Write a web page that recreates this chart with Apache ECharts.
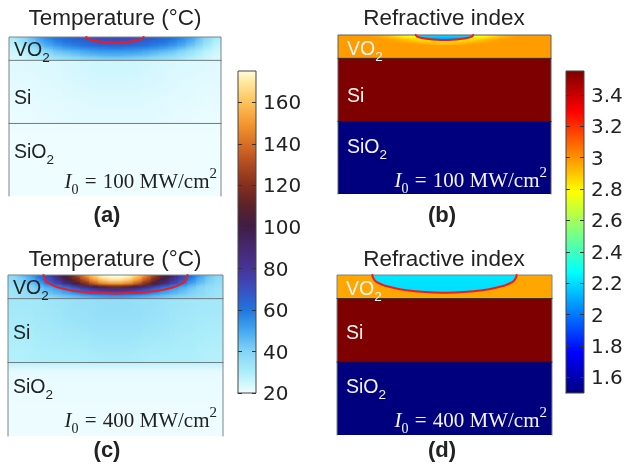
<!DOCTYPE html>
<html><head><meta charset="utf-8">
<style>html,body{margin:0;padding:0;background:#fff}#c{width:628px;height:466px}</style>
<script src="https://cdn.jsdelivr.net/npm/echarts@6/dist/echarts.min.js"></script>
</head><body><div id="c"></div>
<script>
// ---- tick labels and colour scales ----
const temperatureTicks = [20,40,60,80,100,120,140,160];
const indexTicks = [1.6,1.8,2,2.2,2.4,2.6,2.8,3,3.2,3.4];
const temperatureRange = [20,175];
const indexRange = [1.5,3.55];
const temperatureColours = [[20,'#f0fdff'],[30,'#aceefa'],[40,'#84d4f6'],[50,'#45a8f0'],[60,'#2075e0'],[70,'#3a4fc0'],[80,'#46349a'],[90,'#47286f'],[100,'#3f1d45'],[110,'#5a2228'],[120,'#84301c'],[130,'#b04a20'],[140,'#d96f25'],[150,'#f59830'],[160,'#fdc25a'],[170,'#feeaa0'],[175,'#fffbdf']];
const indexColours = [[1.5,'#00007f'],[1.756,'#0000ff'],[2.0125,'#007fff'],[2.269,'#00ffff'],[2.525,'#7fff7f'],[2.781,'#ffff00'],[3.0375,'#ff7f00'],[3.294,'#ff0000'],[3.55,'#7f0000']];

// ---- layer depths ----
const vo2Depths = [0,3.4,6.7,10.1,13.4,16.8,20.1,23.5];
const siDepths = [23.5,39.4,55.2,71.1,87];
const oxideDepths = [87,90,93,97,160];
const halfWidth = 107.5;

// ---- panel (a) temperature ----
const tempA_vo2 = [
[31,37,44,51,56,60,63,66,68,70,71,72,72,71,70,68,66,63,60,56,51,44,37,31],
[29,35,42,48,53,57,60,62,64,66,68.5,69,69,68.5,66,64,62,60,57,53,48,42,35,29],
[27,32,39,44,49,53,56,58,60,62,63,64,64,63,62,60,58,56,53,49,44,39,32,27],
[26,30,35,40,44,48,51,53,55,56,57,58,58,57,56,55,53,51,48,44,40,35,30,26],
[25,27,31,35,39,43,45,47,49,51,52,52,52,52,51,49,47,45,43,39,35,31,27,25],
[24,26,29,32,35,38,40,42,44,45,46,47,47,46,45,44,42,40,38,35,32,29,26,24],
[23,25,27,29,32,34,36,37,39,40,41,41,41,41,40,39,37,36,34,32,29,27,25,23]];
const tempA_si = [
[22.5,23,24,25,25,24,23,22.5],
[22,22.5,23.5,24,24,23.5,22.5,22],
[21.5,22,22.5,23,23,22.5,22,21.5],
[21,21.5,22,22,22,22,21.5,21]];
const tempA_oxide = [[20.6],[20.5],[20.4],[20.3]];
const contourA = [[-29,0],[-28,1.5],[-24,3],[-16,4.6],[-8,5.4],[0,5.7],[8,5.4],[16,4.6],[24,3],[28,1.5],[29,0]];

// ---- panel (c) temperature ----
const tempC_vo2 = [
[38,43,50,60,73,88,104,122,142,160,172,175,175,172,160,142,122,104,88,73,60,50,43,38],
[37,41,47,56,68,82,97,114,132,150,162,168,168,162,150,132,114,97,82,68,56,47,41,37],
[36,39,44,50,60,71,86,100,116,132,144,148,148,144,132,116,100,86,71,60,50,44,39,36],
[35,37,40,45,50,56,64,75,88,98,108,114,114,108,98,88,75,64,56,50,45,40,37,35],
[34,36,39,42,46,50,55,61,69,76,81,84,84,81,76,69,61,55,50,46,42,39,36,34],
[34,35,38,40,43,46,49,53,58,62,65,67,67,65,62,58,53,49,46,43,40,38,35,34],
[33,35,36,38,39,41,43,45,47,49,51,52,52,51,49,47,45,43,41,39,38,36,35,33]];
const tempC_si = [
[32,33,35,36,36,35,33,32],
[31,32,34,35,35,34,32,31],
[30,31,32,33,33,32,31,30],
[29,30,30,31,31,30,30,29]];
const tempC_oxide = [[26],[24],[22],[20.6]];
const contourC = [[-72,0],[-71.5,2.5],[-69,6.7],[-65,9],[-59,11.7],[-51,14],[-42.5,15.7],[-25.5,17.3],[-12,18],[0,18.3],[12,18],[25.5,17.3],[42.5,15.7],[51,14],[59,11.7],[65,9],[69,6.7],[71.5,2.5],[72,0]];

// ---- panel (b) refractive index ----
const indexB_vo2 = [
[2.98,2.98,2.98,2.98,2.96,2.92,2.86,2.8,2.74,2.7,2.7,2.7,2.7,2.7,2.7,2.74,2.8,2.86,2.92,2.96,2.98,2.98,2.98,2.98],
[2.98,2.98,2.98,2.98,2.98,2.98,2.96,2.92,2.88,2.84,2.82,2.8,2.8,2.82,2.84,2.88,2.92,2.96,2.98,2.98,2.98,2.98,2.98,2.98],
[2.98,2.98,2.98,2.98,2.98,2.98,2.98,2.98,2.98,2.96,2.94,2.92,2.92,2.94,2.96,2.98,2.98,2.98,2.98,2.98,2.98,2.98,2.98,2.98],
[2.98]];
const indexB_vo2Depths = [0,3.4,6.7,10.1,23.5];
const coreB = [2.24,2.02];
const contourB = [[-29,0],[-28,1.3],[-24,2.7],[-16,4.1],[-8,4.8],[0,5],[8,4.8],[16,4.1],[24,2.7],[28,1.3],[29,0]];

// ---- panel (d) refractive index ----
const indexD_vo2 = [[2.96]];
const indexD_vo2Depths = [0,23.5];
const coreD = [2.22,2.2];
const contourD = [[-72.2,0],[-71.5,2.5],[-69.5,5.7],[-65,8.5],[-59.5,10.7],[-46,14],[-38,15.3],[-29.5,16.3],[-15,17.2],[0,17.7],[15,17.2],[29.5,16.3],[38,15.3],[46,14],[59.5,10.7],[65,8.5],[69.5,5.7],[71.5,2.5],[72.2,0]];

const indexSi = [[3.55]];
const indexOxide = [[1.5]];
const indexSiDepths = [23.5,87];
const indexOxideDepths = [87,160];

// ---- text ----
const panelTitles = ['Temperature (°C)','Refractive index','Temperature (°C)','Refractive index'];
const panelLetters = ['(a)','(b)','(c)','(d)'];
const intensities = ['100','100','400','400'];

// ---- helpers ----
function rgbAt(stops, v){
  const hex=s=>[1,3,5].map(k=>parseInt(s.substr(k,2),16));
  if (v <= stops[0][0]) return hex(stops[0][1]);
  for (let i=1;i<stops.length;i++){
    if (v <= stops[i][0]){
      const t=(v-stops[i-1][0])/(stops[i][0]-stops[i-1][0]);
      const a=hex(stops[i-1][1]), b=hex(stops[i][1]);
      return a.map((c,k)=>Math.round(c*(1-t)+b[k]*t));
    }
  }
  return hex(stops[stops.length-1][1]);
}
const colourAt=(stops,v,alpha)=>'rgba('+rgbAt(stops,v).join(',')+','+(alpha===undefined?1:alpha)+')';
function cellsFrom(rows, depths){
  const out=[];
  rows.forEach((row,r)=>{
    const w=2*halfWidth/row.length;
    const above=r>0&&rows[r-1].length===row.length?rows[r-1]:row;
    const below=r<rows.length-1&&rows[r+1].length===row.length?rows[r+1]:row;
    row.forEach((v,c)=>{
      out.push([-halfWidth+c*w,-halfWidth+(c+1)*w,depths[r],depths[r+1],v,
        c>0?row[c-1]:v, c<row.length-1?row[c+1]:v, above[c], below[c]]);
    });
  });
  return out;
}
function cellSeries(g, stops, blocks){
  const data=[].concat(...blocks.map(b=>cellsFrom(b[0],b[1])));
  return {type:'custom',xAxisIndex:g,yAxisIndex:g,z:1,silent:true,clip:false,data,
    encode:{x:[0,1],y:[2,3]},
    renderItem(p,api){
      const a=api.coord([api.value(0),api.value(2)]), b=api.coord([api.value(1),api.value(3)]);
      const x0=Math.round(a[0]),x1=Math.round(b[0]),y0=Math.round(a[1]),y1=Math.round(b[1]);
      const v=api.value(4),l=api.value(5),r=api.value(6),u=api.value(7),d=api.value(8);
      const w=x1-x0,h=y1-y0,mid=Math.round(h/2);
      const children=[{type:'rect',shape:{x:x0,y:y0,width:w,height:h},style:{fill:{type:'linear',x:0,y:0,x2:1,y2:0,colorStops:[
        {offset:0,color:colourAt(stops,(l+v)/2)},
        {offset:.5,color:colourAt(stops,v)},
        {offset:1,color:colourAt(stops,(r+v)/2)}]}}}];
      if(u!==v) children.push({type:'rect',shape:{x:x0,y:y0,width:w,height:mid},style:{fill:{type:'linear',x:0,y:0,x2:0,y2:1,colorStops:[
        {offset:0,color:colourAt(stops,u,.5)},{offset:1,color:colourAt(stops,u,0)}]}}});
      if(d!==v) children.push({type:'rect',shape:{x:x0,y:y0+mid,width:w,height:h-mid},style:{fill:{type:'linear',x:0,y:0,x2:0,y2:1,colorStops:[
        {offset:0,color:colourAt(stops,d,0)},{offset:1,color:colourAt(stops,d,.5)}]}}});
      return {type:'group',children};
    }};
}
function coreSeries(g, contour, core){
  return {type:'custom',xAxisIndex:g,yAxisIndex:g,z:2,silent:true,clip:false,data:[[0,0]],
    renderItem(p,api){
      const pts=contour.map(q=>api.coord(q));
      return {type:'polygon',shape:{points:pts},style:{fill:{type:'linear',x:0,y:0,x2:0,y2:1,
        colorStops:[{offset:0,color:colourAt(indexColours,core[0])},{offset:1,color:colourAt(indexColours,core[1])}]}}};
    }};
}
function lineSeries(g, data, color, width, z, smooth){
  return {type:'line',xAxisIndex:g,yAxisIndex:g,data,showSymbol:false,symbol:'none',silent:true,clip:false,z,
    smooth:smooth||false,lineStyle:{color,width,cap:'round'},animation:false};
}
function barSeries(g, stops, range){
  return {type:'custom',xAxisIndex:g,yAxisIndex:g,z:1,silent:true,clip:false,data:[[0,1,range[0],range[1]]],
    encode:{x:[0,1],y:[2,3]},
    renderItem(p,api){
      const a=api.coord([api.value(0),api.value(3)]), b=api.coord([api.value(1),api.value(2)]);
      const span=range[1]-range[0];
      return {type:'rect',shape:{x:a[0],y:a[1],width:b[0]-a[0],height:b[1]-a[1]},style:{fill:{type:'linear',x:0,y:0,x2:0,y2:1,
        colorStops:stops.map(s=>({offset:(range[1]-s[0])/span,color:s[1]})).reverse()}}};
    }};
}
// inward ticks on both edges of a colour bar, placed through the bar's own axes
function barTicks(g, ticks){
  return {type:'custom',xAxisIndex:g,yAxisIndex:g,z:6,silent:true,clip:false,data:ticks.map(t=>[0,t]),
    encode:{x:0,y:1},
    renderItem(p,api){
      const l=api.coord([0,api.value(1)]), r=api.coord([1,api.value(1)]);
      const y=Math.round(l[1])+.5;
      const st={stroke:'#333',lineWidth:1};
      return {type:'group',children:[
        {type:'line',shape:{x1:l[0],y1:y,x2:l[0]+4,y2:y},style:st},
        {type:'line',shape:{x1:r[0]-4,y1:y,x2:r[0],y2:y},style:st}]};
    }};
}

// ---- grids and axes ----
const panelGrids = [
  {left:9,top:37,width:212,height:159},
  {left:338,top:35,width:213,height:159},
  {left:8,top:275,width:215,height:161},
  {left:337,top:275,width:215,height:160}];
const barGrids = [{left:238,top:71,width:18,height:322},{left:566,top:71,width:18,height:322}];
const grids = panelGrids.concat(barGrids);
const xAxes = panelGrids.map((_,i)=>({gridIndex:i,type:'value',min:-halfWidth,max:halfWidth,show:false}))
  .concat(barGrids.map((_,i)=>({gridIndex:4+i,type:'value',min:0,max:1,show:false})));
const yAxes = panelGrids.map((_,i)=>({gridIndex:i,type:'value',min:0,max:160,inverse:true,show:false}));
const tickText = v=>String(v);
function barAxis(g, range, ticks){
  return {gridIndex:g,type:'value',min:range[0],max:range[1],splitLine:{show:false},axisLine:{show:false},z:5,position:'right',
    axisTick:{show:false},
    axisLabel:{show:true,margin:7,verticalAlign:'top',lineHeight:4,customValues:ticks,formatter:tickText,color:'#222',fontFamily:'DejaVu Sans',fontSize:20}};
}
yAxes.push(barAxis(4,temperatureRange,temperatureTicks),barAxis(5,indexRange,indexTicks));

// ---- series ----
const outline=[[-halfWidth,160],[-halfWidth,0],[halfWidth,0],[halfWidth,160]];
const series=[
  cellSeries(0,temperatureColours,[[tempA_vo2,vo2Depths],[tempA_si,siDepths],[tempA_oxide,oxideDepths]]),
  cellSeries(1,indexColours,[[indexB_vo2,indexB_vo2Depths],[indexSi,indexSiDepths],[indexOxide,indexOxideDepths]]),
  coreSeries(1,contourB,coreB),
  cellSeries(2,temperatureColours,[[tempC_vo2,vo2Depths],[tempC_si,siDepths],[tempC_oxide,oxideDepths]]),
  cellSeries(3,indexColours,[[indexD_vo2,indexD_vo2Depths],[indexSi,indexSiDepths],[indexOxide,indexOxideDepths]]),
  coreSeries(3,contourD,coreD)
];
const frameColours=['#7a8488','#5a5f66','#7a8488','#7a8488'];
[0,1,2,3].forEach(g=>{
  series.push(lineSeries(g,outline,frameColours[g],1,3));
  series.push(lineSeries(g,[[-halfWidth,23.5],[halfWidth,23.5]],g%2?'#44302a':'#6f7a7e',1,3));
  series.push(lineSeries(g,[[-halfWidth,87],[halfWidth,87]],g%2?'#20104a':'#6f7a7e',1,3));
});
[[0,contourA],[1,contourB],[2,contourC],[3,contourD]].forEach(q=>series.push(lineSeries(q[0],q[1],'#ec1c24',2,4,0.3)));
series.push(barSeries(4,temperatureColours,temperatureRange));
series.push(barSeries(5,indexColours,indexRange));
series.push(barTicks(4,temperatureTicks));
series.push(barTicks(5,indexTicks));
series.push(lineSeries(4,[[0,20],[1,20],[1,175],[0,175],[0,20]],'#444',1,4));
series.push(lineSeries(5,[[0,1.5],[1,1.5],[1,3.55],[0,3.55],[0,1.5]],'#444',1,4));

// ---- text ----
const sans='"Liberation Sans"', serif='"Liberation Serif"';
const layerRich=col=>({m:{fontFamily:sans,fontSize:19.5,fill:col,lineHeight:28,verticalAlign:'middle'},
  s:{fontFamily:sans,fontSize:13.5,fill:col,lineHeight:13,verticalAlign:'bottom'}});
const mathRich=col=>({i:{fontFamily:serif,fontStyle:'italic',fontSize:21,fill:col,lineHeight:30,verticalAlign:'middle'},
  m:{fontFamily:serif,fontSize:21,fill:col,lineHeight:30,verticalAlign:'middle'},
  e:{fontFamily:serif,fontSize:21,fill:col,lineHeight:30,verticalAlign:'middle',padding:[0,1,0,1]},
  s:{fontFamily:serif,fontSize:14,fill:col,lineHeight:14,verticalAlign:'bottom'},
  u:{fontFamily:serif,fontSize:15,fill:col,lineHeight:22,verticalAlign:'top'}});
const txt=(x,y,text,rich,align)=>({type:'text',x,y,z:10,silent:true,style:{text,rich,align:align||'left',verticalAlign:'middle'}});
const plain=(x,y,text,font)=>({type:'text',x,y,z:10,silent:true,style:{text,font,fill:'#222',align:'center',verticalAlign:'middle'}});
const titleXY=[[115,19],[444,19],[115,260],[444,260]];
const letterXY=[[107,216],[442,216],[107,451],[442,451]];
const layerXY=[
  [[14,51],[14,99],[14,153],[217,182]],
  [[347,50],[347,97],[347,148],[547,181]],
  [[13,289],[13,334],[13,388],[217,421]],
  [[346,290],[346,334],[346,388],[547,421]]];
const graphicEls=[];
[0,1,2,3].forEach(i=>{
  const col=i%2?'#f4f4f4':'#222';
  const L=layerXY[i];
  graphicEls.push(plain(titleXY[i][0],titleXY[i][1],panelTitles[i],'22.5px '+sans));
  graphicEls.push(plain(letterXY[i][0],letterXY[i][1],panelLetters[i],'bold 22px '+sans));
  graphicEls.push(txt(L[0][0],L[0][1],'{m|VO}{s|2}',layerRich(col)));
  graphicEls.push(txt(L[1][0],L[1][1],'{m|Si}',layerRich(col)));
  graphicEls.push(txt(L[2][0],L[2][1],'{m|SiO}{s|2}',layerRich(col)));
  graphicEls.push(txt(L[3][0],L[3][1],'{i|I}{s|0}{e| = }{m|'+intensities[i]+' MW/cm}{u|2}',mathRich(col),'right'));
});

const chart=echarts.init(document.getElementById('c'),null,{renderer:'canvas'});
chart.setOption({animation:false,backgroundColor:'#fff',grid:grids,xAxis:xAxes,yAxis:yAxes,series,graphic:{elements:graphicEls}});
</script></body></html>
